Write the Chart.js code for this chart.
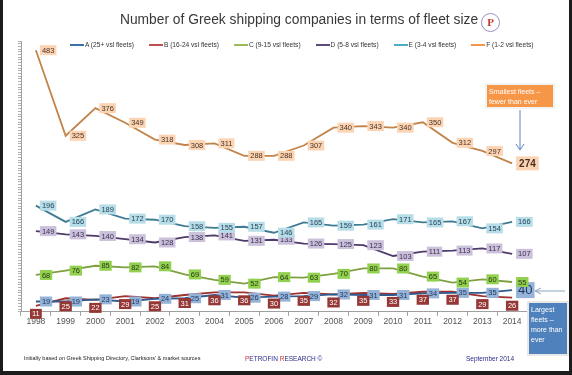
<!DOCTYPE html>
<html>
<head>
<meta charset="utf-8">
<script src="https://cdn.jsdelivr.net/npm/chart.js@4.4.0/dist/chart.umd.min.js"></script>
<style>
    body { margin: 0; background: #1c1c1c; width: 572px; height: 375px; overflow: hidden; font-family: "Liberation Sans", Arial, sans-serif; }
    #page { position: absolute; left: 3px; top: 0; width: 566px; height: 371px; background: #fff; }
    #chart { position: absolute; left: 0; top: 0; }
    .abs { position: absolute; white-space: nowrap; }
    #title { left: 0; width: 598px; top: 12px; text-align: center; font-size: 13.8px; color: #383838; }
    #legend { left: 70px; top: 41px; display: flex; gap: 15px; font-size: 6.6px; color: #333; }
    #legend .item { display: flex; align-items: center; }
    #legend .swatch { width: 14px; height: 2px; margin-right: 1px; }
    #logo { left: 481px; top: 13px; width: 17px; height: 17px; border: 1px solid #9a8fc0; border-radius: 50%;
            font: bold 11px "Liberation Serif", serif; color: #c0392b; text-align: center; line-height: 17px; }
    #note { left: 24px; top: 355px; font-size: 5.5px; color: #222; }
    #brand { left: 245px; top: 355px; font-size: 6.5px; color: #2b2b8c; }
    #brand b { color: #d0322f; font-weight: normal; }
    #date { left: 466px; top: 355px; font-size: 6.5px; color: #2b2b8c; }
    #small-box { left: 487px; top: 85px; width: 62px; height: 18px; padding: 2px 2px; background: #f79646;
                 box-shadow: 0 0 0 2px #f3f3f3; color: #fff; font-size: 7px; line-height: 10px; white-space: normal; }
    #large-box { left: 529px; top: 303px; width: 34px; height: 47px; padding: 2px 2px; background: #4f81bd;
                 box-shadow: 0 0 0 2px #e8e8e8; color: #fff; font-size: 7px; line-height: 10px; white-space: normal; }
    svg { position: absolute; left: 0; top: 0; }
</style>
</head>
<body>
<div id="page"></div>
<canvas id="chart" width="572" height="375"></canvas>
<div id="title" class="abs">Number of Greek shipping companies in terms of fleet size</div>
<div id="logo" class="abs">P</div>
<div id="legend" class="abs"></div>
<div id="small-box" class="abs">Smallest fleets – fewer than ever</div>
<div id="large-box" class="abs">Largest fleets – more than ever</div>
<svg width="572" height="375">
    <line x1="520" y1="110" x2="520" y2="149" stroke="#5b86b8" stroke-width="1"/>
    <polyline points="516,144 520,150 524,144" fill="none" stroke="#5b86b8" stroke-width="1"/>
    <line x1="565" y1="291" x2="536" y2="291" stroke="#8aa0c0" stroke-width="1"/>
    <polyline points="541,288 535,291 541,294" fill="none" stroke="#8aa0c0" stroke-width="1"/>
</svg>
<div id="note" class="abs">Initially based on Greek Shipping Directory, Clarksons' &amp; market sources</div>
<div id="brand" class="abs"><b>P</b>ETROFIN <b>R</b>ESEARCH ©</div>
<div id="date" class="abs">September 2014</div>

<script>
// ---- DATA ----

const years = ["1998", "1999", "2000", "2001", "2002", "2003", "2004", "2005", "2006",
               "2007", "2008", "2009", "2010", "2011", "2012", "2013", "2014"];

const seriesNames = ["A (25+ vsl fleets)", "B (16-24 vsl fleets)", "C (9-15 vsl fleets)",
                     "D (5-8 vsl fleets)", "E (3-4 vsl fleets)", "F (1-2 vsl fleets)"];

const fleetA = [19, 19, 23, 19, 24, 25, 31, 26, 28, 29, 32, 31, 31, 34, 35, 35, 40];
const fleetB = [11, 25, 22, 29, 25, 31, 36, 36, 30, 35, 32, 35, 33, 37, 37, 29, 26];
const fleetC = [68, 76, 85, 82, 84, 69, 59, 52, 64, 63, 70, 80, 80, 65, 54, 60, 55];
const fleetD = [149, 143, 140, 134, 128, 138, 141, 131, 133, 126, 125, 123, 103, 111, 113, 117, 107];
const fleetE = [196, 166, 189, 172, 170, 158, 155, 157, 146, 165, 159, 161, 171, 165, 167, 154, 166];
const fleetF = [483, 325, 376, 349, 318, 308, 311, 288, 288, 307, 340, 343, 340, 350, 312, 297, 274];

// ---- STYLES ----

const font = "'Liberation Sans', Arial, sans-serif";
const lineColors = ["#2f5b8f", "#9e3230", "#7fa040", "#4e3a6b", "#3f7c93", "#c3844a"];
const legendColors = ["#3f6fa8", "#c0504d", "#9bbb59", "#604a7b", "#4bacc6", "#f79646"];
const labelBg = ["#95b3d7", "#953735", "#92d050", "#ccc1da", "#b7dde8", "#fbd4b4"];
const labelFg = ["#1f3864", "#ffffff", "#2a3a10", "#3a2f55", "#1f3f55", "#4a3020"];

// legend built from the series names
const legend = document.getElementById("legend");
seriesNames.forEach((name, i) => {
    const item = document.createElement("div");
    item.className = "item";
    const sw = document.createElement("div");
    sw.className = "swatch";
    sw.style.background = legendColors[i];
    const txt = document.createElement("span");
    txt.textContent = name;
    item.appendChild(sw);
    item.appendChild(txt);
    legend.appendChild(item);
});

// boxed data labels, like the excel ones
const boxLabels = {
    id: "boxLabels",
    afterDatasetsDraw(chart) {
        const ctx = chart.ctx;
        ctx.save();
        chart.data.datasets.forEach((ds, i) => {
            const meta = chart.getDatasetMeta(i);
            meta.data.forEach((pt, j) => {
                const last = j === ds.data.length - 1;
                let f = "7.5px " + font, h = 10, pad = 2;
                if (last && i === 0) { f = "13px " + font; h = 16; pad = 2; }
                if (last && i === 5) { f = "bold 10px " + font; h = 14; pad = 3; }
                ctx.font = f;
                const txt = String(ds.data[j]);
                const w = ctx.measureText(txt).width + pad * 2;
                let bx, by;
                if (i === 1) {
                    // B labels sit under the point
                    bx = pt.x - w / 2;
                    by = pt.y + 3;
                } else {
                    bx = pt.x + 4;
                    by = pt.y - h / 2;
                }
                ctx.fillStyle = labelBg[i];
                ctx.fillRect(bx, by, w, h);
                ctx.fillStyle = labelFg[i];
                ctx.textAlign = "center";
                ctx.textBaseline = "middle";
                ctx.fillText(txt, bx + w / 2, by + h / 2 + 0.5);
            });
        });
        ctx.restore();
    }
};

const allSeries = [fleetA, fleetB, fleetC, fleetD, fleetE, fleetF];

new Chart(document.getElementById("chart").getContext("2d"), {
    type: "line",
    data: {
        labels: years,
        datasets: allSeries.map((vals, i) => ({
            label: seriesNames[i],
            data: vals,
            borderColor: lineColors[i],
            backgroundColor: lineColors[i],
            borderWidth: 1.8,
            pointRadius: 0,
            tension: 0
        }))
    },
    options: {
        responsive: false,
        animation: false,
        devicePixelRatio: 1,
        layout: { padding: { left: 18, right: 45, top: 41, bottom: 47 } },
        plugins: { legend: { display: false }, tooltip: { enabled: false } },
        scales: {
            x: {
                offset: true,
                grid: { offset: true, drawOnChartArea: false, tickLength: 4, color: "#a0a0a0" },
                border: { color: "#a0a0a0" },
                ticks: { color: "#555", font: { size: 8.5, family: font }, padding: 1, maxRotation: 0, autoSkip: false }
            },
            y: {
                min: 0,
                max: 500,
                grid: { drawOnChartArea: false, tickLength: 3, color: "#b0b0b0" },
                border: { color: "#a0a0a0" },
                ticks: { display: false, stepSize: 5 }
            }
        }
    },
    plugins: [boxLabels]
});
</script>
</body>
</html>
